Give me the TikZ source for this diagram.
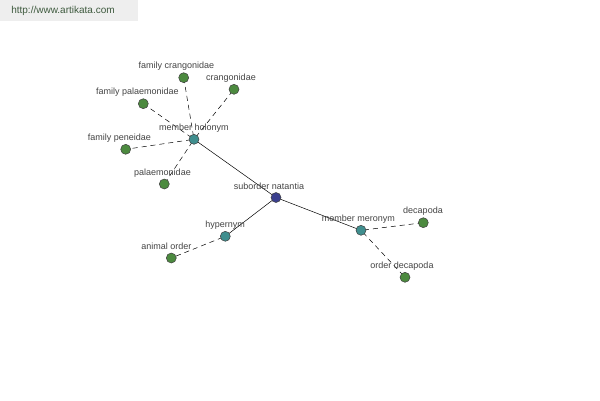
\documentclass[tikz,border=0pt]{standalone}
\usepackage{fontspec}
\setmainfont{Liberation Sans}
\definecolor{leafg}{HTML}{4C8A3F}
\definecolor{teal2}{HTML}{3F8E8E}
\definecolor{navy2}{HTML}{3A3F8E}
\definecolor{lbl}{HTML}{444444}
\definecolor{banner}{HTML}{EEEEEE}
\definecolor{bantext}{HTML}{3E5A3E}
\begin{document}
\begin{tikzpicture}[x=1pt,y=-1pt,
  dot/.style={circle,draw=black!75,line width=0.5pt,minimum size=10pt,inner sep=0pt},
  leaf/.style={dot,fill=leafg},
  mid/.style={dot,fill=teal2},
  core/.style={dot,fill=navy2},
  lab/.style={text=lbl,font=\fontsize{9}{10}\selectfont,inner sep=0pt},
  solidlink/.style={draw=black,line width=0.5pt},
  dashlink/.style={draw=black,line width=0.5pt,dash pattern=on 5pt off 4pt,shorten >=3pt,shorten <=3pt}]
\useasboundingbox (0,0) rectangle (600,400);
\fill[white] (0,0) rectangle (600,400);
\fill[banner] (0,0) rectangle (138,21);
\node[text=bantext,font=\fontsize{10}{11}\selectfont,inner sep=0pt] (url) at (63,11) {http://www.artikata.com};

% nodes
\coordinate (pSN) at (276,197.5);
\coordinate (pMH) at (194,139.3);
\coordinate (pFC) at (183.7,77.7);
\coordinate (pCR) at (234,89.3);
\coordinate (pFP) at (143.3,103.7);
\coordinate (pPE) at (125.7,149.3);
\coordinate (pPA) at (164.3,184);
\coordinate (pHY) at (225.3,236.3);
\coordinate (pAO) at (171.3,258);
\coordinate (pMM) at (361,230.3);
\coordinate (pDE) at (423.3,222.7);
\coordinate (pOD) at (405,277.3);

% links
\draw[solidlink] (pMH) -- (pSN);
\draw[solidlink] (pSN) -- (pHY);
\draw[solidlink] (pSN) -- (pMM);
\draw[dashlink] (pMH) -- (pFC);
\draw[dashlink] (pMH) -- (pCR);
\draw[dashlink] (pMH) -- (pFP);
\draw[dashlink] (pMH) -- (pPE);
\draw[dashlink] (pMH) -- (pPA);
\draw[dashlink] (pHY) -- (pAO);
\draw[dashlink] (pMM) -- (pDE);
\draw[dashlink] (pMM) -- (pOD);

% labels
\node[lab] (lSN) at (269,186.5) {suborder natantia};
\node[lab] (lMH) at (194,127.7) {member holonym};
\node[lab] (lFC) at (176.5,66) {family crangonidae};
\node[lab] (lCR) at (231,78.5) {crangonidae};
\node[lab] (lFP) at (137.3,91.7) {family palaemonidae};
\node[lab] (lPE) at (119.5,137.7) {family peneidae};
\node[lab] (lPA) at (162.5,173.3) {palaemonidae};
\node[lab] (lHY) at (225.2,225.5) {hypernym};
\node[lab] (lAO) at (166.5,246.5) {animal order};
\node[lab] (lMM) at (358.3,219.3) {member meronym};
\node[lab] (lDE) at (423,210.7) {decapoda};
\node[lab] (lOD) at (402,265.7) {order decapoda};

% dots
\node[core] (SN) at (pSN) {};
\node[mid] (MH) at (pMH) {};
\node[leaf] (FC) at (pFC) {};
\node[leaf] (CR) at (pCR) {};
\node[leaf] (FP) at (pFP) {};
\node[leaf] (PE) at (pPE) {};
\node[leaf] (PA) at (pPA) {};
\node[mid] (HY) at (pHY) {};
\node[leaf] (AO) at (pAO) {};
\node[mid] (MM) at (pMM) {};
\node[leaf] (DE) at (pDE) {};
\node[leaf] (OD) at (pOD) {};
\end{tikzpicture}
\end{document}
